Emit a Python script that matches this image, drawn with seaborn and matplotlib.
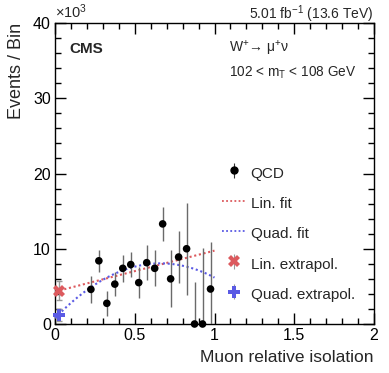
import numpy as np
import pandas as pd
import matplotlib
matplotlib.use("Agg")
import matplotlib.pyplot as plt
from matplotlib.ticker import MultipleLocator, FixedLocator
import seaborn as sns

# QCD template in the isolation sideband (values in units of 10^3)
iso_centers = [0.225, 0.275, 0.325, 0.375, 0.425, 0.475, 0.525, 0.575,
               0.625, 0.675, 0.725, 0.775, 0.825, 0.875, 0.925, 0.975]
qcd_counts = [4.6, 8.4, 2.75, 5.3, 7.4, 7.9, 5.5, 8.15,
              7.4, 13.3, 6.0, 8.9, 10.0, 0.0, 0.0, 4.65]
qcd_err_down = [1.8, 1.5, 1.7, 1.55, 1.8, 1.65, 2.05, 2.35,
                2.4, 2.25, 3.8, 3.5, 6.1, 0.0, 0.0, 4.65]
qcd_err_up = [1.8, 1.5, 1.7, 1.55, 1.8, 1.65, 2.05, 2.35,
              2.4, 2.25, 3.8, 3.5, 6.1, 5.6, 10.1, 6.2]

# fit results (polynomial coefficients, highest order first)
lin_fit_coef = [5.45, 4.3]
quad_fit_coef = [-16.6, 22.0, 0.77]
fit_range = [0.0, 1.0]

# extrapolation to the signal region
extrap_x = 0.025
lin_extrap = [4.45, 1.3]    # value, error
quad_extrap = [1.2, 0.8]

red = "#dc5a5e"
blue = "#5a5ae4"

sns.set_style("ticks", {"xtick.direction": "in", "ytick.direction": "in",
                        "xtick.top": True, "ytick.right": True,
                        "xtick.color": "black", "ytick.color": "black"})
plt.rcParams["font.family"] = ["Liberation Sans", "DejaVu Sans"]
plt.rcParams["mathtext.fontset"] = "custom"
plt.rcParams["mathtext.rm"] = "Liberation Sans"
plt.rcParams["mathtext.it"] = "Liberation Sans:italic"

fig = plt.figure(figsize=(3.89, 3.73), dpi=100)
ax = fig.add_axes([55 / 389, 49 / 373, 319 / 389, 301 / 373])

# fits
xs = np.linspace(fit_range[0], fit_range[1], 200)
df_fit = pd.DataFrame({
    "x": np.concatenate([xs, xs]),
    "y": np.concatenate([np.polyval(lin_fit_coef, xs), np.polyval(quad_fit_coef, xs)]),
    "fit": ["Lin. fit"] * len(xs) + ["Quad. fit"] * len(xs),
})
sns.lineplot(data=df_fit, x="x", y="y", hue="fit", palette={"Lin. fit": red, "Quad. fit": blue},
             linestyle=(0, (1, 1.3)), linewidth=1.5, ax=ax, legend=False, zorder=3)

# data points
ax.errorbar(iso_centers, qcd_counts, yerr=[qcd_err_down, qcd_err_up], fmt="none",
            ecolor="#6a6a6a", elinewidth=1.0, capsize=0, zorder=4)
sns.scatterplot(x=iso_centers, y=qcd_counts, color="black", s=30, edgecolor="none",
                ax=ax, zorder=5, clip_on=False)

# extrapolated values
ax.errorbar([extrap_x], [lin_extrap[0]], yerr=[lin_extrap[1]], fmt="none", ecolor="#999999",
            elinewidth=1, capsize=2, zorder=6)
ax.errorbar([extrap_x], [quad_extrap[0]], yerr=[quad_extrap[1]], fmt="none", ecolor="#999999",
            elinewidth=1, capsize=2, zorder=6)
ax.plot([extrap_x], [lin_extrap[0]], marker="X", color=red, markersize=9, markeredgewidth=0,
        zorder=7, clip_on=False)
ax.plot([extrap_x], [quad_extrap[0]], marker="P", color=blue, markersize=9, markeredgewidth=0,
        zorder=7, clip_on=False)

ax.set_xlim(0, 2)
ax.set_ylim(0, 40)
ax.xaxis.set_major_locator(FixedLocator([0, 0.5, 1, 1.5, 2]))
ax.set_xticklabels(["0", "0.5", "1", "1.5", "2"])
ax.xaxis.set_minor_locator(MultipleLocator(0.1))
ax.yaxis.set_major_locator(MultipleLocator(10))
ax.yaxis.set_minor_locator(MultipleLocator(2))
ax.tick_params(which="both", direction="in", top=True, right=True, bottom=True, left=True,
               width=1.0, color="black")
ax.tick_params(which="major", length=8, labelsize=11.5, pad=3)
ax.tick_params(which="minor", length=4.5)
for sp in ax.spines.values():
    sp.set_linewidth(1.0)
    sp.set_color("black")

ax.set_xlabel("Muon relative isolation", fontsize=12.5, loc="right", labelpad=5)
ax.set_ylabel("Events / Bin", fontsize=13, loc="top", labelpad=6)

ax.text(0.0, 1.008, r"$\times$10$^{3}$", transform=ax.transAxes, fontsize=10.5,
        ha="left", va="bottom")
ax.text(1.0, 1.014, r"5.01 fb$^{-1}$ (13.6 TeV)", transform=ax.transAxes, fontsize=10,
        ha="right", va="baseline")
ax.text(0.045, 0.913, "CMS", transform=ax.transAxes, fontsize=11, fontweight="bold",
        ha="left", va="center")
ax.text(0.545, 0.915, "W$^{+}$→ μ$^{+}$ν", transform=ax.transAxes, fontsize=10,
        ha="left", va="center")
ax.text(0.545, 0.833, r"102 < m$_{\mathrm{T}}$ < 108 GeV", transform=ax.transAxes, fontsize=9.8,
        ha="left", va="center")

# legend handles
h_qcd = ax.errorbar([], [], yerr=[], fmt="o", color="black", markersize=5, ecolor="#333333",
                    elinewidth=0.8, capsize=2.5)
h_lin, = ax.plot([], [], color=red, linestyle=(0, (1, 1.3)), linewidth=1.3)
h_quad, = ax.plot([], [], color=blue, linestyle=(0, (1, 1.3)), linewidth=1.3)
h_lin_ex = ax.errorbar([], [], yerr=[], fmt="X", color=red, markersize=9, markeredgewidth=0,
                       ecolor="#999999", elinewidth=0.8, capsize=2.5)
h_quad_ex = ax.errorbar([], [], yerr=[], fmt="P", color=blue, markersize=9, markeredgewidth=0,
                        ecolor="#999999", elinewidth=0.8, capsize=2.5)
handles = [h_qcd, h_lin, h_quad, h_lin_ex, h_quad_ex]
labels = ["QCD", "Lin. fit", "Quad. fit", "Lin. extrapol.", "Quad. extrapol."]
ax.legend(handles, labels, loc="upper left", bbox_to_anchor=(0.525, 0.535), frameon=False,
          fontsize=11, handlelength=1.5, handleheight=1.6, handletextpad=0.35,
          labelspacing=0.7, borderpad=0, borderaxespad=0)

fig.savefig("out.png", dpi=100)
